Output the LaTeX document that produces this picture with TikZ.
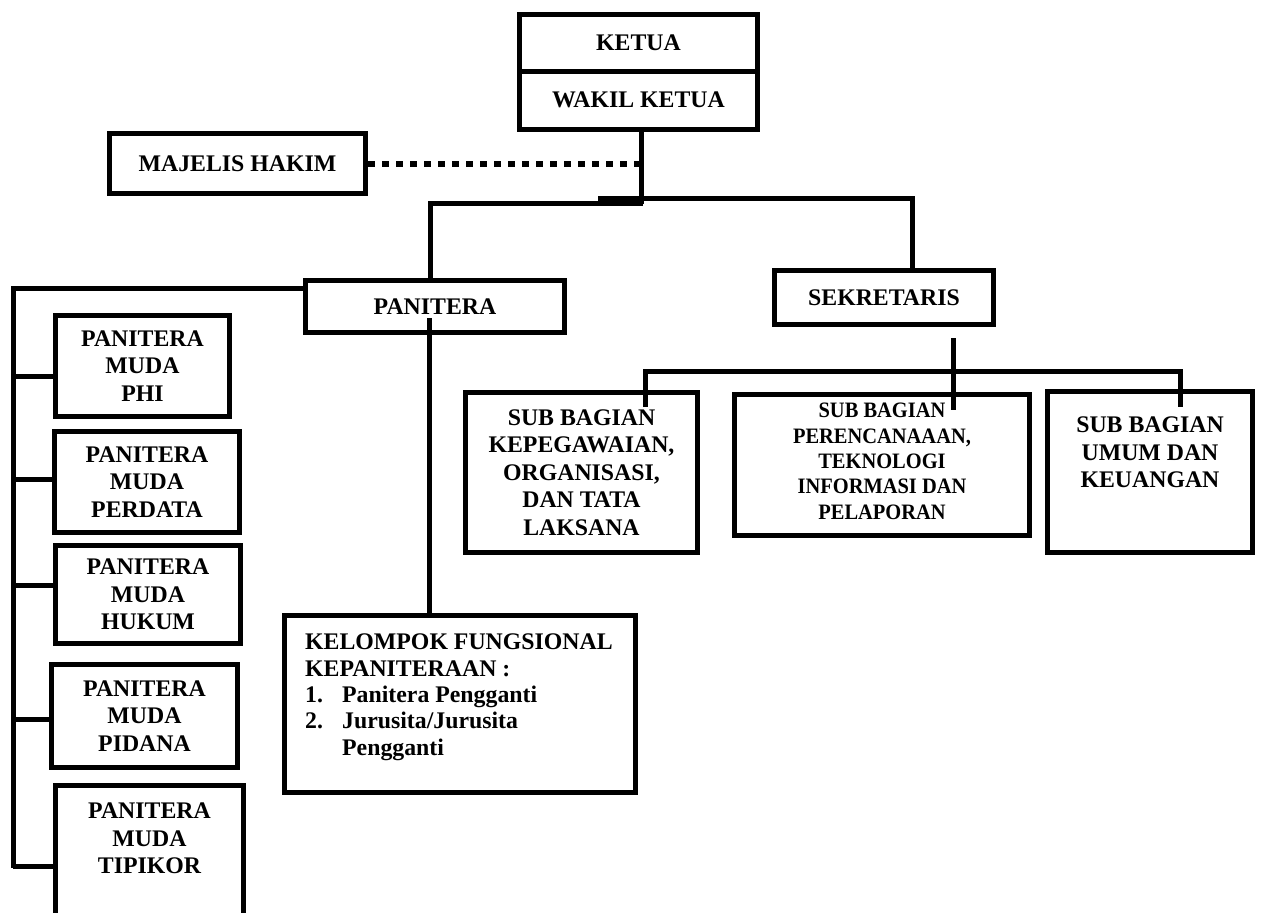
\documentclass[tikz,border=0pt]{standalone}
\usepackage{fontspec}
\setmainfont{Liberation Serif}
\newfontfamily\narrowserif[FakeStretch=0.93]{Liberation Serif}
\newcommand{\mainfs}{\bfseries\fontsize{23.8}{27.5}\selectfont}
\newcommand{\smallfs}{\narrowserif\bfseries\fontsize{22}{25.4}\selectfont}
\newcommand{\kelfs}{\bfseries\fontsize{23.8}{26.3}\selectfont}
\begin{document}
\begin{tikzpicture}[x=1pt,y=-1pt,
  box/.style={draw, line width=5pt, align=center, inner sep=0pt, font=\mainfs},
  conn/.style={line width=5pt},
  dots/.style={line width=6pt, dash pattern=on 7pt off 7pt},
  txt/.style={align=center, inner sep=0pt, font=\mainfs}]
\fill[white] (0,0) rectangle (1262,913);
\useasboundingbox (0,0) rectangle (1262,913);

% top
\node[box, minimum width=238, minimum height=56.5] (ketua) at (638.5,42.75) {KETUA};
\node[box, minimum width=238, minimum height=58.5] (wakil) at (638.5,100.25) {WAKIL KETUA};
\node[box, minimum width=256, minimum height=60] (majelis) at (237.5,163.5) {MAJELIS HAKIM};

% second level
\node[box, minimum width=259, minimum height=52] (panitera) at (435,306.5) {PANITERA};
\node[box, minimum width=219, minimum height=54] (sekretaris) at (884,297.5) {SEKRETARIS};

% panitera muda
\node[box, minimum width=174, minimum height=101] (phi) at (142.5,366) {PANITERA\\MUDA\\PHI};
\node[box, minimum width=185, minimum height=101] (perdata) at (147,482) {PANITERA\\MUDA\\PERDATA};
\node[box, minimum width=185, minimum height=98] (hukum) at (148,594.5) {PANITERA\\MUDA\\HUKUM};
\node[box, minimum width=186, minimum height=103] (pidana) at (144.5,716) {PANITERA\\MUDA\\PIDANA};
\node[box, minimum width=188, minimum height=175] (tipikor) at (149.5,872.75) {};
\node[txt, anchor=north] (tipikort) at (149.5,803) {PANITERA\\MUDA\\TIPIKOR};

% kelompok fungsional
\node[box, minimum width=351, minimum height=177] (kelompok) at (460,704) {};
\node[txt, align=left, anchor=north west, font=\kelfs] (kelompokt) at (305,634)
  {KELOMPOK FUNGSIONAL\\
   KEPANITERAAN :\\
   \makebox[37pt][l]{1.}Panitera Pengganti\\
   \makebox[37pt][l]{2.}Jurusita/Jurusita\\
   \hspace*{37pt}Pengganti};

% sub bagian
\node[box, minimum width=232, minimum height=160] (sb1) at (581.5,472.5)
  {SUB BAGIAN\\KEPEGAWAIAN,\\ORGANISASI,\\DAN TATA\\LAKSANA};
\node[box, minimum width=295, minimum height=141] (sb2) at (882,465) {};
\node[txt, anchor=north, font=\smallfs] (sb2t) at (882,403)
  {SUB BAGIAN\\PERENCANAAAN,\\TEKNOLOGI\\INFORMASI DAN\\PELAPORAN};
\node[box, minimum width=205, minimum height=161] (sb3) at (1150,472) {};
\node[txt, anchor=north] (sb3t) at (1150,417) {SUB BAGIAN\\UMUM DAN\\KEUANGAN};

% connectors top
\coordinate (j0) at (641,202);
\coordinate (jl) at (430,203.5);
\coordinate (jm) at (643,203.5);
\coordinate (js) at (598,198.5);
\coordinate (jr) at (912,198.5);
\draw[conn] (wakil.south -| j0) -- (j0 |- jm);
\draw[conn] (jl |- panitera.north) -- (jl) -- (jm);
\draw[conn] (js) -- (jr) -- (jr |- sekretaris.north);
\draw[dots] (majelis.east) -- (majelis.east -| j0);

% left column
\coordinate (L0) at (13,288);
\coordinate (L1) at (13,868);
\draw[conn] (L0 -| panitera.west) -- (L0) -- (L1);
\draw[conn] ([yshift=-10pt]phi.west) -- ([yshift=-10pt]phi.west -| L0);
\draw[conn] ([yshift=3pt]perdata.west) -- ([yshift=3pt]perdata.west -| L0);
\draw[conn] ([yshift=9.5pt]hukum.west) -- ([yshift=9.5pt]hukum.west -| L0);
\draw[conn] ([yshift=-3pt]pidana.west) -- ([yshift=-3pt]pidana.west -| L0);
\draw[conn] ([yshift=6.75pt]tipikor.west) -- ([yshift=6.75pt]tipikor.west -| L0);

% panitera to kelompok
\coordinate (pk) at (429,318);
\draw[conn] (pk) -- (pk |- kelompok.north);

% sekretaris to sub bagian
\coordinate (s0) at (953,338);
\coordinate (s1) at (953,410);
\draw[conn] (s0) -- (s1);
\coordinate (b1) at (645,371);
\coordinate (b2) at (1180,371);
\coordinate (b1e) at (645,407);
\coordinate (b2e) at (1180,407);
\draw[conn] (b1e) -- (b1) -- (b2) -- (b2e);
\end{tikzpicture}
\end{document}
